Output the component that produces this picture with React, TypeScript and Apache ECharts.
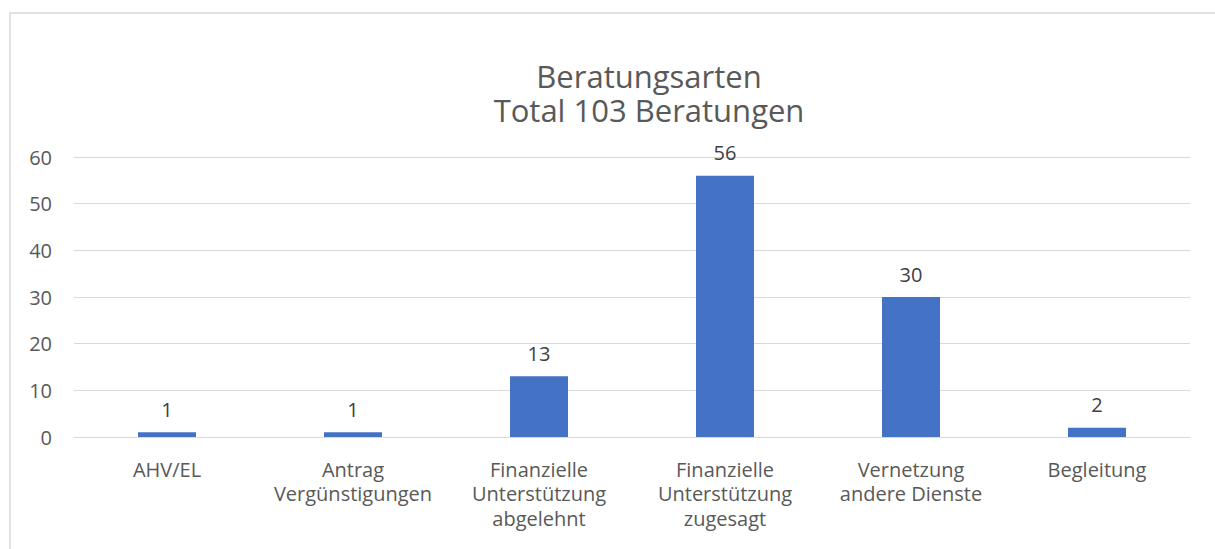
import React, { useEffect, useRef } from "react";
import * as echarts from "echarts";

const categories = [
  "AHV/EL",
  "Antrag\nVergünstigungen",
  "Finanzielle\nUnterstützung\nabgelehnt",
  "Finanzielle\nUnterstützung\nzugesagt",
  "Vernetzung\nandere Dienste",
  "Begleitung",
];
const values = [1, 1, 13, 56, 30, 2];
const titleLines = ["Beratungsarten", "Total 103 Beratungen"];
const yMin = 0;
const yMax = 60;
const yInterval = 10;

const FONT = "'Open Sans', sans-serif";

export default function App() {
  const ref = useRef<HTMLDivElement>(null);
  useEffect(() => {
    if (!ref.current) return;
    const chart = echarts.init(ref.current, undefined, { renderer: "svg" });
    chart.setOption({
      animation: false,
      backgroundColor: "#ffffff",
      textStyle: { fontFamily: FONT },
      graphic: [
        {
          type: "rect",
          shape: { x: 10, y: 13, width: 1400, height: 700 },
          style: { fill: "none", stroke: "#D9D9D9", lineWidth: 1.5 },
          silent: true,
        },
        {
          type: "text",
          x: 649,
          y: 93,
          style: {
            text: titleLines.join("\n"),
            fontFamily: FONT,
            fontSize: 31,
            lineHeight: 34,
            fill: "#595959",
            align: "center",
            verticalAlign: "middle",
          },
        },
      ],
      grid: { left: 74, right: 25, top: 157, bottom: 112, containLabel: false },
      xAxis: {
        type: "category",
        data: categories,
        axisLine: { lineStyle: { color: "#D9D9D9", width: 1 } },
        axisTick: { show: false },
        axisLabel: {
          color: "#595959",
          fontSize: 20,
          lineHeight: 24.5,
          margin: 20,
          interval: 0,
          fontFamily: FONT,
        },
      },
      yAxis: {
        type: "value",
        min: yMin,
        max: yMax,
        interval: yInterval,
        axisLine: { show: false },
        axisTick: { show: false },
        splitLine: { lineStyle: { color: "#D9D9D9", width: 1 } },
        axisLabel: { color: "#595959", fontSize: 20, margin: 22, fontFamily: FONT },
      },
      series: [
        {
          type: "bar",
          data: values,
          barWidth: 58,
          itemStyle: { color: "#4472C4" },
          label: {
            show: true,
            position: "top",
            distance: 13,
            color: "#404040",
            fontSize: 20,
            fontFamily: FONT,
          },
        },
      ],
    });
    return () => chart.dispose();
  }, []);
  return (
    <div
      ref={ref}
      style={{ position: "fixed", left: 0, top: 0, width: 1215, height: 549 }}
    />
  );
}
